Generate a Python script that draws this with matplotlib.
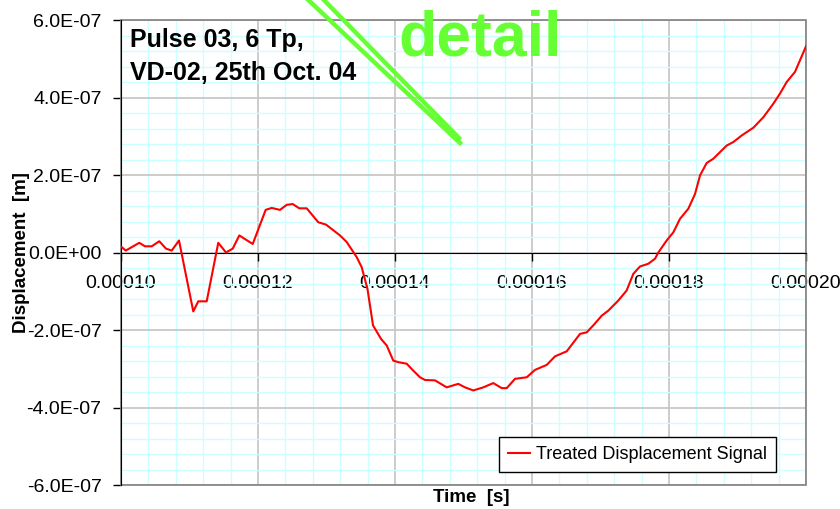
import matplotlib
matplotlib.use('Agg')
from matplotlib import pyplot as plt
from matplotlib.lines import Line2D
from matplotlib.patches import Rectangle
from matplotlib.ticker import MultipleLocator, FuncFormatter

# time in microseconds, displacement in units of 1e-7 m
time_us = [100.10, 100.69, 102.67, 103.50, 104.48, 105.59, 106.57, 107.40, 108.47,
           110.55, 111.28, 112.51, 114.20, 115.33, 116.31, 117.27, 119.23, 121.12,
           122.00, 123.21, 124.19, 125.07, 126.03, 127.11, 128.80, 129.93, 131.97,
           132.95, 134.41, 135.14, 135.99, 136.79, 137.96, 138.79, 139.75, 140.48,
           141.71, 142.67, 143.65, 144.38, 145.84, 147.55, 149.24, 150.22, 151.43,
           152.89, 154.35, 155.58, 156.31, 157.52, 159.23, 160.44, 162.15, 163.36,
           165.07, 167.01, 167.99, 168.95, 170.18, 171.14, 172.60, 173.82, 174.79,
           175.77, 176.98, 177.96, 178.44, 179.66, 180.63, 181.61, 182.82, 183.80,
           184.53, 185.50, 186.47, 188.42, 189.39, 190.61, 192.31, 193.77, 195.23,
           196.20, 197.18, 198.39, 200.00]
disp_e7 = [0.14, 0.05, 0.25, 0.16, 0.16, 0.29, 0.10, 0.05, 0.31,
           -1.52, -1.26, -1.26, 0.25, 0.00, 0.10, 0.44, 0.22, 1.10,
           1.15, 1.10, 1.23, 1.25, 1.14, 1.14, 0.78, 0.72, 0.44,
           0.27, -0.12, -0.38, -0.95, -1.88, -2.23, -2.40, -2.79, -2.83,
           -2.87, -3.05, -3.22, -3.29, -3.30, -3.48, -3.39, -3.48, -3.56,
           -3.48, -3.37, -3.50, -3.50, -3.26, -3.22, -3.03, -2.90, -2.68,
           -2.55, -2.10, -2.06, -1.88, -1.63, -1.50, -1.24, -0.98, -0.55,
           -0.36, -0.29, -0.16, 0.00, 0.31, 0.52, 0.87, 1.13, 1.51,
           1.99, 2.31, 2.42, 2.76, 2.85, 3.02, 3.22, 3.49, 3.84,
           4.10, 4.40, 4.66, 5.32]

t = [v * 1e-6 for v in time_us]
d = [v * 1e-7 for v in disp_e7]

plt.rcParams['font.family'] = ['Liberation Sans', 'DejaVu Sans']

fig = plt.figure(figsize=(8.4, 5.09), dpi=100)
ax = fig.add_axes([121 / 840, 1 - 485 / 509, 685 / 840, 465 / 509])

ax.plot(t, d, color='#ff0000', lw=1.5, label='Treated Displacement Signal', zorder=5)

ax.set_xlim(0.0001, 0.0002)
ax.set_ylim(-6e-7, 6e-7)
ax.xaxis.set_major_locator(MultipleLocator(2e-5))
ax.xaxis.set_minor_locator(MultipleLocator(4e-6))
ax.yaxis.set_major_locator(MultipleLocator(2e-7))
ax.yaxis.set_minor_locator(MultipleLocator(4e-8))
ax.xaxis.set_major_formatter(FuncFormatter(lambda v, p: '{:.5f}'.format(v)))
ax.yaxis.set_major_formatter(FuncFormatter(lambda v, p: '{:.1E}'.format(0 if abs(v) < 1e-12 else v)))

ax.grid(which='minor', color='#ccffff', lw=1.0, zorder=0)
ax.grid(which='major', color='#c8c8c8', lw=1.3, zorder=1)
ax.set_axisbelow(True)

for s in ['top', 'right']:
  ax.spines[s].set_visible(False)
ax.spines['bottom'].set_position(('data', 0))
ax.spines['bottom'].set_color('black')
ax.spines['left'].set_color('black')
ax.spines['bottom'].set_zorder(4)
ax.spines['left'].set_zorder(4)
ax.add_patch(Rectangle((0, 0), 1, 1, transform=ax.transAxes, fill=False,
                       edgecolor='#808080', lw=1.2, clip_on=False, zorder=3))

ax.tick_params(which='minor', length=0)
ax.tick_params(which='major', direction='out', length=6, width=1, labelsize=14, pad=8)
ax.tick_params(axis='x', pad=10)

# axis titles
fig.text(22 / 840, 1 - 253 / 509, 'Displacement  [m]', fontsize=13.5, fontweight='bold',
         rotation=90, ha='center', va='center')
fig.text(471 / 840, 1 - 498 / 509, 'Time  [s]', fontsize=13.5, fontweight='bold',
         ha='center', va='center')

fig.text(130 / 840, 1 - 47 / 509, 'Pulse 03, 6 Tp,', fontsize=18, fontweight='bold',
         va='baseline')
fig.text(130 / 840, 1 - 80 / 509, 'VD-02, 25th Oct. 04', fontsize=18, fontweight='bold',
         va='baseline')

# green "detail" marker
green = '#66ff33'
fig.text(398 / 840, 1 - 55 / 509, 'detail', fontsize=45, fontweight='bold',
         color=green, va='baseline')
fig.add_artist(Line2D([302 / 840, 460 / 840], [1 + 6 / 509, 1 - 143 / 509],
                      transform=fig.transFigure, color=green, lw=3.2))
fig.add_artist(Line2D([318 / 840, 459 / 840], [1 + 6 / 509, 1 - 138 / 509],
                      transform=fig.transFigure, color=green, lw=3.2))

leg = ax.legend(loc='lower right', bbox_to_anchor=(776 / 840, 1 - 472 / 509),
                bbox_transform=fig.transFigure, fontsize=13, fancybox=False,
                framealpha=1, edgecolor='black', handlelength=1.2,
                borderpad=0.5, handletextpad=0.35, borderaxespad=0)
leg.get_frame().set_linewidth(1.0)

fig.savefig('out.png', dpi=100)
